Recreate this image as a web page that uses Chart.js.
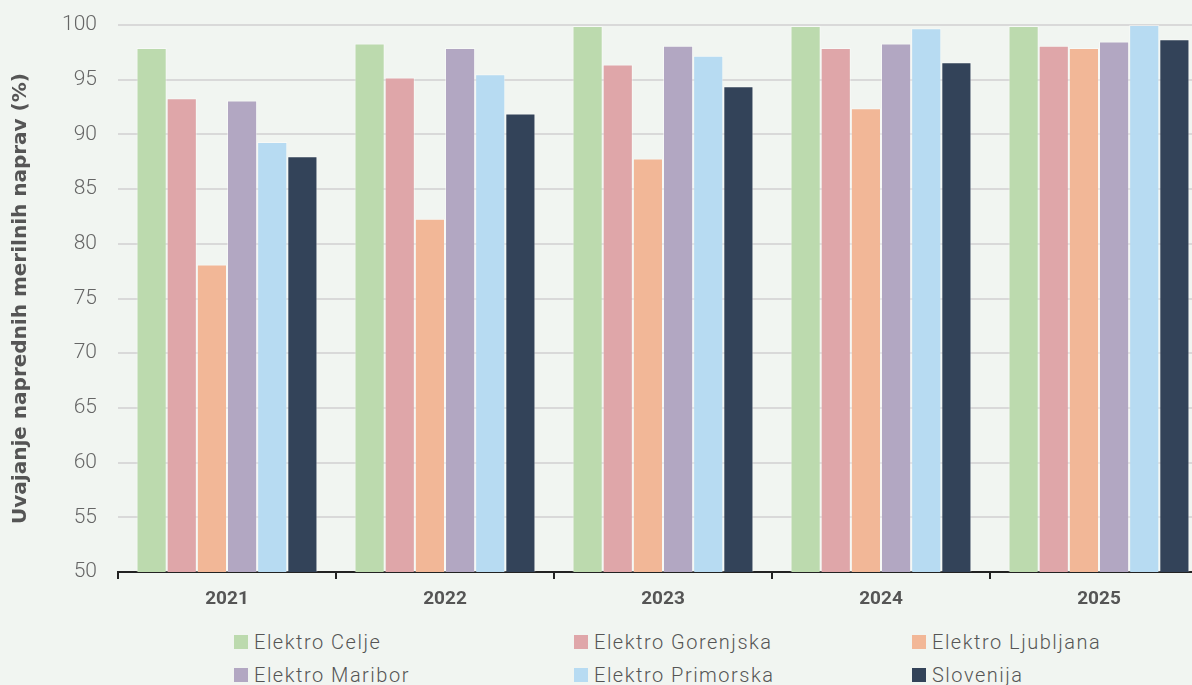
<!DOCTYPE html>
<html>
<head>
<meta charset="utf-8">
<script src="https://cdn.jsdelivr.net/npm/chart.js@4"></script>
<style>
  html, body { margin: 0; padding: 0; background: #f1f5f1; overflow: hidden; }
  body { width: 1192px; height: 685px; position: relative; font-family: Roboto, sans-serif; }
  #wrap { position: absolute; left: 0; top: 0; width: 1210px; height: 617px; }
  #legend { position: absolute; left: 234px; top: 629px; display: grid; grid-template-columns: 340px 338px 300px; row-gap: 8px; }
  .item { display: flex; align-items: center; font-size: 20px; letter-spacing: 1.5px; color: #555; font-weight: 300; height: 25px; }
  .sw { width: 14px; height: 14px; margin-right: 6px; }
</style>
</head>
<body>
<div id="wrap"><canvas id="myChart" width="1210" height="617"></canvas></div>
<div id="legend"></div>
<script>
const years = ['2021', '2022', '2023', '2024', '2025'];
const seriesNames = ['Elektro Celje', 'Elektro Gorenjska', 'Elektro Ljubljana', 'Elektro Maribor', 'Elektro Primorska', 'Slovenija'];
const celje = [97.9, 98.3, 99.9, 99.9, 99.9];
const gorenjska = [93.3, 95.2, 96.4, 97.9, 98.1];
const ljubljana = [78.1, 82.3, 87.8, 92.4, 97.9];
const maribor = [93.1, 97.9, 98.1, 98.3, 98.5];
const primorska = [89.3, 95.5, 97.2, 99.7, 100];
const slovenija = [88.0, 91.9, 94.4, 96.6, 98.7];
const yTicks = [50, 55, 60, 65, 70, 75, 80, 85, 90, 95, 100];

const colors = ['#bcdaae', '#dfa6a9', '#f2b797', '#b2a7c2', '#b7dbf2', '#334359'];
const values = [celje, gorenjska, ljubljana, maribor, primorska, slovenija];

const legend = document.getElementById('legend');
seriesNames.forEach((n, i) => {
    legend.innerHTML += '<div class="item"><span class="sw" style="background:' + colors[i] + '"></span>' + n + '</div>';
});

var ctx = document.getElementById('myChart').getContext('2d');
var myChart = new Chart(ctx, {
    type: 'bar',
    data: {
        labels: years,
        datasets: seriesNames.map((n, i) => ({
            label: n,
            data: values[i],
            backgroundColor: colors[i],
            borderColor: 'rgba(255,255,255,0.45)',
            borderWidth: 1,
            barPercentage: 1,
            categoryPercentage: 0.83
        }))
    },
    options: {
        responsive: false,
        animation: false,
        layout: { padding: { top: 25, right: 2, left: 0, bottom: 0 } },
        plugins: { legend: { display: false }, tooltip: { enabled: false } },
        scales: {
            x: {
                offset: true,
                afterFit: (s) => { s.height = 45; s.paddingLeft = 0; s.paddingRight = 0; },
                grid: { display: true, drawOnChartArea: false, drawTicks: true, tickLength: 7, color: '#222', lineWidth: 2, offset: true },
                border: { display: true, color: '#222', width: 2 },
                ticks: { color: '#555', font: { family: 'Roboto', size: 19, weight: 'bold' }, padding: 9 }
            },
            y: {
                min: 50,
                max: 100,
                afterBuildTicks: (s) => { s.ticks = yTicks.map(v => ({ value: v })); },
                afterFit: (s) => { s.width = 118; s.paddingTop = 0; s.paddingBottom = 0; },
                grid: { color: '#d9d9d9', lineWidth: 2, drawTicks: false },
                border: { display: false },
                ticks: { color: '#666', font: { family: 'Roboto', size: 21, weight: 300 }, padding: 21 },
                title: {
                    display: true,
                    text: 'Uvajanje naprednih merilnih naprav (%)',
                    color: '#555',
                    font: { family: 'DejaVu Sans', size: 20, weight: 'bold' },
                    padding: { top: 9, bottom: 0 }
                }
            }
        }
    }
});
</script>
</body>
</html>
